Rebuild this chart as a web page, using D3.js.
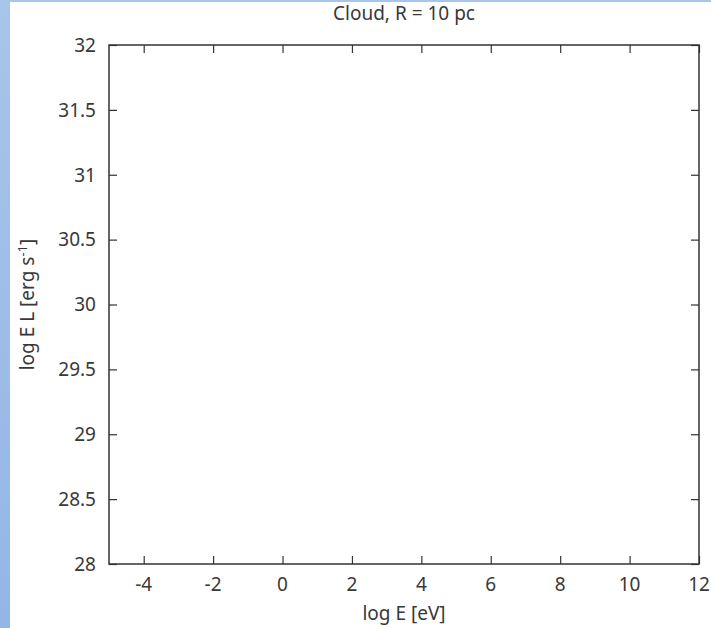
<!DOCTYPE html>
<html>
<head>
<meta charset="utf-8">
<script src="https://cdn.jsdelivr.net/npm/d3@7"></script>
<style>
  html, body { margin: 0; padding: 0; background: #fff; }
  svg { display: block; }
  text { font-family: "Noto Sans", "DejaVu Sans", sans-serif; fill: #383838; }
</style>
</head>
<body>
<script>
// Axis ranges and tick values
const xDomain = [-5, 12];
const yDomain = [28, 32];
const xTicks = [-4, -2, 0, 2, 4, 6, 8, 10, 12];
const yTicks = [28, 28.5, 29, 29.5, 30, 30.5, 31, 31.5, 32];
const titleText = "Cloud, R = 10 pc";
const xLabelText = "log E [eV]";
const yLabelParts = ["log E L [erg s", "-1", "]"];

const W = 711, H = 628;
const m = { left: 109, right: 699, top: 45, bottom: 564 };

const svg = d3.select("body").append("svg")
  .attr("width", W).attr("height", H);

// Page background with the blue border strips
const defs = svg.append("defs");
const grad = defs.append("linearGradient").attr("id", "edge")
  .attr("x1", 0).attr("y1", 0).attr("x2", 0).attr("y2", 1);
grad.append("stop").attr("offset", "0%").attr("stop-color", "#a8c5ea");
grad.append("stop").attr("offset", "100%").attr("stop-color", "#93b6e5");

svg.append("rect").attr("width", W).attr("height", H).attr("fill", "#fff");
svg.append("rect").attr("x", 0).attr("y", 0).attr("width", 10).attr("height", H).attr("fill", "url(#edge)");
svg.append("rect").attr("x", 0).attr("y", 0).attr("width", W).attr("height", 2).attr("fill", "#a8c5ea");

const x = d3.scaleLinear().domain(xDomain).range([m.left, m.right]);
const y = d3.scaleLinear().domain(yDomain).range([m.bottom, m.top]);

const tickLen = 8;
const axisColor = "#333";

// Inward ticks on all four sides
function styleAxis(g) {
  g.select(".domain").remove();
  g.selectAll(".tick line").attr("stroke", axisColor).attr("stroke-width", 1.2);
  g.selectAll(".tick text").remove();
}

svg.append("g").attr("transform", `translate(0,${m.bottom})`)
  .call(d3.axisBottom(x).tickValues(xTicks).tickSize(-tickLen)).call(styleAxis);
svg.append("g").attr("transform", `translate(0,${m.top})`)
  .call(d3.axisTop(x).tickValues(xTicks).tickSize(-tickLen)).call(styleAxis);
svg.append("g").attr("transform", `translate(${m.left},0)`)
  .call(d3.axisLeft(y).tickValues(yTicks).tickSize(-tickLen)).call(styleAxis);
svg.append("g").attr("transform", `translate(${m.right},0)`)
  .call(d3.axisRight(y).tickValues(yTicks).tickSize(-tickLen)).call(styleAxis);

// Plot frame
svg.append("rect")
  .attr("x", m.left).attr("y", m.top)
  .attr("width", m.right - m.left).attr("height", m.bottom - m.top)
  .attr("fill", "none").attr("stroke", axisColor).attr("stroke-width", 1.5);

const fs = 19;

// Tick labels
svg.append("g").selectAll("text").data(xTicks).join("text")
  .attr("x", d => x(d)).attr("y", 591)
  .attr("text-anchor", "middle").attr("font-size", fs)
  .text(d => d);

svg.append("g").selectAll("text").data(yTicks).join("text")
  .attr("x", 96).attr("y", d => y(d))
  .attr("dy", "0.36em")
  .attr("text-anchor", "end").attr("font-size", fs)
  .text(d => d);

// Title
svg.append("text")
  .attr("x", (m.left + m.right) / 2).attr("y", 20)
  .attr("text-anchor", "middle").attr("font-size", fs)
  .text(titleText);

// X axis label
svg.append("text")
  .attr("x", (m.left + m.right) / 2).attr("y", 620)
  .attr("text-anchor", "middle").attr("font-size", fs)
  .text(xLabelText);

// Y axis label with superscript
const yl = svg.append("text")
  .attr("transform", `translate(34,${(m.top + m.bottom) / 2}) rotate(-90)`)
  .attr("text-anchor", "middle").attr("font-size", fs);
yl.append("tspan").text(yLabelParts[0]);
yl.append("tspan").attr("font-size", 13).attr("dy", -7).text(yLabelParts[1]);
yl.append("tspan").attr("dy", 7).text(yLabelParts[2]);
</script>
</body>
</html>
